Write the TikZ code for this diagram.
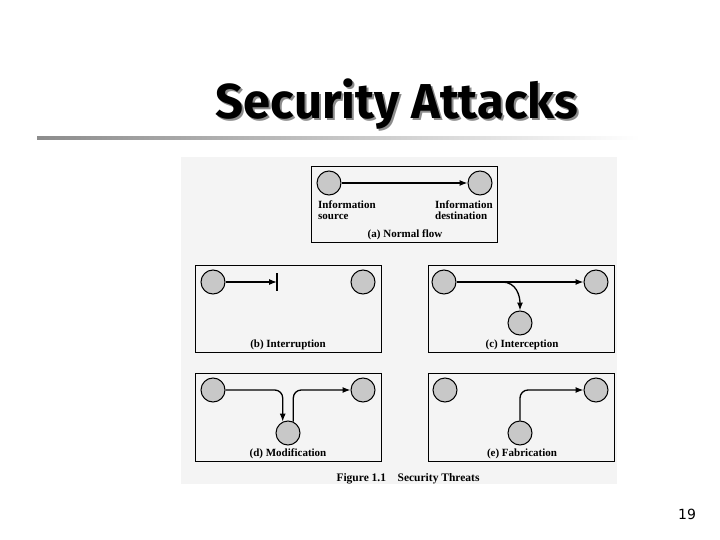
\documentclass[tikz,border=0pt]{standalone}
\usepackage{fontspec}
\setmainfont{Liberation Serif}
\newfontfamily\titlefont{Fira Sans}
\newfontfamily\numfont{DejaVu Sans}
\usetikzlibrary{arrows.meta, positioning, calc}
\definecolor{paper}{HTML}{F4F4F4}
\definecolor{hostgray}{HTML}{C8C8C8}
\tikzset{
  every node/.style={font=\fontsize{11}{11}\selectfont\bfseries},
  frame/.style={draw=black, line width=1.0pt, inner sep=0pt},
  host/.style={
    circle, draw=black, line width=1.0pt, fill=hostgray,
    minimum size=24pt, inner sep=0pt
  },
  arr/.style={-{Latex[length=8pt,width=6pt]}, line width=1.3pt},
  caption/.style={anchor=base},
}

\begin{document}
\begin{tikzpicture}[x=1pt, y=-1pt]
    \useasboundingbox (0,0) rectangle (720,540);

    % Slide title
    \node[text=black!45, font=\titlefont\fontsize{49}{49}\selectfont\bfseries]
      (titleshadow) at (399,106) {Security Attacks};
    \node[font=\titlefont\fontsize{49}{49}\selectfont\bfseries]
      (title) at (397,104) {Security Attacks};
    \shade[left color=black!45, right color=white, draw=none]
      (37,137) rectangle (640,140);

    % Figure background
    \fill[paper] (181,157) rectangle (617,484);

    % (a) Normal flow
    \node[frame, minimum width=186pt, minimum height=76pt] (fa) at (404,204.5) {};
    \node[host] (asrc) at (329,183) {};
    \node[host] (adst) at (480,183) {};
    \draw[arr] (asrc) -- (adst);
    \node[anchor=north west, align=left, inner sep=0pt] (asrclbl) at (318,201)
      {Information\\[0pt]source};
    \node[anchor=north west, align=left, inner sep=0pt] (adstlbl) at (435,201)
      {Information\\[0pt]destination};
    \node[caption] (acap) at (405,237) {(a) Normal flow};

    % (b) Interruption
    \node[frame, minimum width=186pt, minimum height=87pt] (fb) at (288,308.5) {};
    \node[host] (bsrc) at (213,282) {};
    \node[host] (bdst) at (363,282) {};
    \coordinate (bcut) at (277,282);
    \draw[arr] (bsrc) -- (bcut);
    \draw[line width=1.6pt] ($(bcut)+(0,-9)$) -- ($(bcut)+(0,9)$);
    \node[caption] (bcap) at (288,347) {(b) Interruption};

    % (c) Interception
    \node[frame, minimum width=186pt, minimum height=87pt] (fc) at (521,308.5) {};
    \node[host] (csrc) at (444,282) {};
    \node[host] (cdst) at (596,282) {};
    \node[host] (cmid) at (520,323) {};
    \coordinate (cbranch) at (502,282);
    \draw[arr] (csrc) -- (cdst);
    \draw[arr] (cbranch) to[out=0, in=90, looseness=1.1] (cmid.north);
    \node[caption] (ccap) at (522,347) {(c) Interception};

    % (d) Modification
    \node[frame, minimum width=186pt, minimum height=88pt] (fd) at (288,417) {};
    \node[host] (dsrc) at (213,390) {};
    \node[host] (ddst) at (363,390) {};
    \node[host] (dmid) at (288,433) {};
    \draw[arr, rounded corners=8pt] (dsrc.east) -| (dmid.115);
    \draw[arr, rounded corners=8pt] (dmid.65) |- (ddst.west);
    \node[caption] (dcap) at (288,456) {(d) Modification};

    % (e) Fabrication
    \node[frame, minimum width=186pt, minimum height=88pt] (fe) at (521,417) {};
    \node[host] (esrc) at (445,390) {};
    \node[host] (edst) at (596,390) {};
    \node[host] (emid) at (520,433) {};
    \draw[arr, rounded corners=8pt] (emid.north) |- (edst.west);
    \node[caption] (ecap) at (522,456) {(e) Fabrication};

    % Figure caption
    \node[caption, font=\fontsize{11.5}{11.5}\selectfont\bfseries] (figcap) at (408,481)
      {Figure 1.1\quad Security Threats};

    % Page number
    \node[font=\numfont\fontsize{14}{14}\selectfont] (pagenum) at (687,514) {19};
\end{tikzpicture}
\end{document}
